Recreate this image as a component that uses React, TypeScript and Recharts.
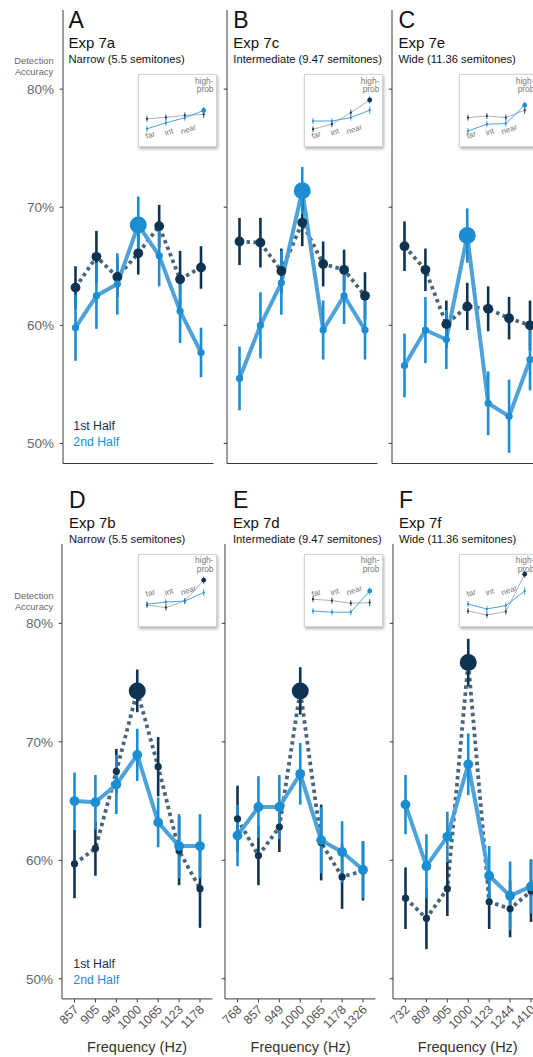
import React from "react";
import { ComposedChart, ErrorBar, Line, XAxis, YAxis } from "recharts";

const DARK = "#0f3452";
const DARK_LINE = "#4a6479";
const BLUE = "#1a8dd3";
const BLUE_LINE = "#4ea2da";
const AXIS = "#3a3a3a";
const FONT = '"Liberation Sans", Arial, Helvetica, sans-serif';

// tone frequencies per spacing condition
const narrowFreqs = ["857", "905", "949", "1000", "1065", "1123", "1178"];
const intermediateFreqs = ["768", "857", "949", "1000", "1065", "1178", "1326"];
const wideFreqs = ["732", "809", "905", "1000", "1123", "1244", "1410"];

const yTicks = [50, 60, 70, 80];

// Exp 7a (narrow)
const firstHalf7a = [63.2, 65.8, 64.1, 66.1, 68.4, 63.9, 64.9];
const firstErr7a = [1.8, 2.2, 1.7, 1.8, 1.8, 2.4, 1.8];
const secondHalf7a = [59.8, 62.5, 63.5, 68.5, 65.9, 61.2, 57.7];
const secondErr7a = [2.8, 2.8, 2.6, 2.4, 2.6, 2.7, 2.1];

// Exp 7c (intermediate)
const firstHalf7c = [67.1, 67.0, 64.6, 68.7, 65.2, 64.7, 62.5];
const firstErr7c = [2.0, 2.1, 1.9, 2.0, 1.9, 1.7, 2.0];
const secondHalf7c = [55.5, 60.0, 63.6, 71.4, 59.6, 62.5, 59.6];
const secondErr7c = [2.7, 2.8, 2.7, 2.0, 2.5, 2.4, 2.5];

// Exp 7e (wide)
const firstHalf7e = [66.7, 64.7, 60.1, 61.6, 61.4, 60.6, 60.0];
const firstErr7e = [2.1, 1.8, 2.0, 2.0, 1.9, 1.8, 2.1];
const secondHalf7e = [56.6, 59.6, 58.8, 67.6, 53.4, 52.3, 57.1];
const secondErr7e = [2.7, 2.8, 2.5, 2.3, 2.7, 3.1, 2.6];

// Exp 7b (narrow)
const firstHalf7b = [59.7, 61.0, 67.5, 74.3, 67.9, 60.8, 57.6];
const firstErr7b = [2.9, 2.3, 1.9, 1.8, 2.5, 2.9, 3.3];
const secondHalf7b = [65.0, 64.9, 66.4, 68.9, 63.2, 61.2, 61.2];
const secondErr7b = [2.4, 2.3, 2.5, 2.2, 2.1, 2.7, 2.7];

// Exp 7d (intermediate)
const firstHalf7d = [63.5, 60.4, 62.8, 74.3, 61.5, 58.6, 59.1];
const firstErr7d = [2.8, 2.5, 2.1, 2.0, 3.2, 2.7, 2.5];
const secondHalf7d = [62.1, 64.5, 64.5, 67.3, 61.7, 60.7, 59.2];
const secondErr7d = [2.6, 2.6, 2.7, 2.6, 2.8, 2.6, 2.4];

// Exp 7f (wide)
const firstHalf7f = [56.8, 55.1, 57.6, 76.7, 56.5, 55.9, 57.4];
const firstErr7f = [2.6, 2.6, 2.3, 2.0, 2.3, 2.4, 2.6];
const secondHalf7f = [64.7, 59.5, 62.0, 68.1, 58.7, 57.0, 57.8];
const secondErr7f = [2.5, 2.7, 2.1, 2.6, 2.5, 2.9, 2.3];

// insets: mean accuracy by distance from the high-probability tone
const insetCats = ["far", "int", "near", "high-prob"];
const insetErrFirst = [1.5, 1.5, 1.5, 1.8];
const insetErrSecond = [1.5, 1.5, 1.5, 1.8];
const insetFirst7a = [60.6, 61.3, 62.3, 62.8];
const insetSecond7a = [55.6, 58.6, 61.1, 64.8];
const insetFirst7c = [55.4, 57.9, 63.7, 70.0];
const insetSecond7c = [59.5, 59.5, 61.2, 64.9];
const insetFirst7e = [61.2, 62.0, 61.2, 64.9];
const insetSecond7e = [54.5, 57.9, 58.2, 67.4];
const insetFirst7b = [57.5, 56.2, 59.5, 69.9];
const insetSecond7b = [57.9, 59.0, 59.5, 63.7];
const insetFirst7d = [60.4, 59.7, 58.4, 58.7];
const insetSecond7d = [54.5, 53.9, 53.9, 64.5];
const insetFirst7f = [54.5, 52.5, 54.2, 72.9];
const insetSecond7f = [58.0, 55.5, 57.2, 64.5];

const Y_W = 58;
const PLOT_W = 150.5;
const TOP_PAD = 10;

type PanelProps = {
  letter: string;
  exp: string;
  sub: string;
  axisX: number;
  plotTop: number;
  plotH: number;
  titleY: number;
  freqs: string[];
  first: number[];
  firstErr: number[];
  second: number[];
  secondErr: number[];
  showY: boolean;
  showX: boolean;
};

function FreqTick(props: any) {
  const { x, y, payload } = props;
  const ax = x + 2;
  const ay = y + 3;
  return (
    <text
      x={ax}
      y={ay}
      textAnchor="end"
      dominantBaseline="central"
      transform={`rotate(-45 ${ax} ${ay})`}
      fill="#555"
      fontSize={12.5}
      fontFamily={FONT}
    >
      {payload.value}
    </text>
  );
}

function makeDot(color: string, emphasized: boolean, peak: number) {
  return (p: any) => {
    const r = emphasized ? (p.index === peak ? 8.5 : 3.6) : 4.9;
    return <circle key={`dot-${p.index}`} cx={p.cx} cy={p.cy} r={r} fill={color} />;
  };
}

function Panel(props: PanelProps) {
  const { axisX, plotTop, plotH, freqs, first, firstErr, second, secondErr, showY, showX } = props;
  const rows = freqs.map((f, i) => ({
    f,
    a: first[i],
    b: second[i],
    ap: first[i],
    bp: second[i],
    ea: firstErr[i],
    eb: secondErr[i],
  }));
  const peak = freqs.indexOf("1000");
  const firstBig = first[peak] > second[peak];
  const xH = showX ? 56 : 8;

  return (
    <div style={{ position: "absolute", left: axisX - Y_W, top: plotTop - TOP_PAD }}>
      <ComposedChart
        width={Y_W + PLOT_W + 6}
        height={TOP_PAD + plotH + xH}
        data={rows}
        margin={{ top: TOP_PAD, right: 6, bottom: 0, left: 0 }}
      >
        <XAxis
          dataKey="f"
          type="category"
          interval={0}
          height={xH}
          padding={{ left: 12.5, right: 12.5 }}
          axisLine={{ stroke: AXIS }}
          tickLine={{ stroke: AXIS }}
          tickSize={3.5}
          tick={showX ? <FreqTick /> : false}
        />
        <YAxis
          type="number"
          domain={[48.3, 86.7]}
          ticks={yTicks}
          allowDataOverflow
          width={Y_W}
          axisLine={{ stroke: AXIS }}
          tickLine={{ stroke: AXIS }}
          tickSize={3.3}
          tickMargin={5.7}
          tick={{ fill: "#666", fontSize: 13.5, fontFamily: FONT }}
          tickFormatter={(v) => (showY ? `${v}%` : "")}
        />
        <Line
          dataKey="a"
          stroke={DARK_LINE}
          strokeWidth={3.8}
          strokeDasharray="3.5 3.5"
          dot={false}
          activeDot={false}
          isAnimationActive={false}
        />
        <Line
          dataKey="b"
          stroke={BLUE_LINE}
          strokeWidth={4}
          strokeLinejoin="round"
          dot={false}
          activeDot={false}
          isAnimationActive={false}
        />
        <Line
          dataKey="ap"
          stroke="none"
          dot={makeDot(DARK, firstBig, peak)}
          activeDot={false}
          isAnimationActive={false}
        >
          <ErrorBar dataKey="ea" direction="y" width={0} stroke={DARK} strokeWidth={2.6} isAnimationActive={false} />
        </Line>
        <Line
          dataKey="bp"
          stroke="none"
          dot={makeDot(BLUE, !firstBig, peak)}
          activeDot={false}
          isAnimationActive={false}
        >
          <ErrorBar dataKey="eb" direction="y" width={0} stroke={BLUE} strokeWidth={2.6} isAnimationActive={false} />
        </Line>
      </ComposedChart>
    </div>
  );
}

type InsetProps = {
  left: number;
  top: number;
  first: number[];
  second: number[];
  labelsAbove: boolean;
};

function insetDot(color: string, emphasized: boolean) {
  return (p: any) => (
    <circle key={`idot-${p.index}`} cx={p.cx} cy={p.cy} r={emphasized && p.index === 3 ? 2.4 : 1.1} fill={color} />
  );
}

function Inset({ left, top, first, second }: InsetProps) {
  const rows = insetCats.map((c, i) => ({
    c,
    a: first[i],
    b: second[i],
    ea: insetErrFirst[i],
    eb: insetErrSecond[i],
  }));
  const firstBig = first[3] > second[3];
  return (
    <>
      <div
        style={{
          position: "absolute",
          left,
          top,
          width: 79,
          height: 73,
          boxSizing: "border-box",
          background: "#fff",
          border: "1px solid #d4d4d4",
          boxShadow: "1px 2px 3px rgba(0,0,0,0.3)",
        }}
      />
      <div style={{ position: "absolute", left, top }}>
        <ComposedChart width={79} height={73} data={rows} margin={{ top: 16, right: 13.3, bottom: 7, left: 9 }}>
          <XAxis dataKey="c" hide padding={{ left: 0, right: 0 }} />
          <YAxis hide type="number" domain={[50, 75]} allowDataOverflow />
          <Line
            dataKey="a"
            stroke="#a9b1b8"
            strokeWidth={1}
            dot={insetDot(DARK, firstBig)}
            activeDot={false}
            isAnimationActive={false}
          >
            <ErrorBar dataKey="ea" direction="y" width={0} stroke={DARK} strokeWidth={0.8} isAnimationActive={false} />
          </Line>
          <Line
            dataKey="b"
            stroke="#4aa3df"
            strokeWidth={1}
            dot={insetDot(BLUE, !firstBig)}
            activeDot={false}
            isAnimationActive={false}
          >
            <ErrorBar dataKey="eb" direction="y" width={0} stroke={BLUE} strokeWidth={0.8} isAnimationActive={false} />
          </Line>
        </ComposedChart>
      </div>
    </>
  );
}

const TOP_ROW = { plotTop: 10, plotH: 453.5, titleY: 0 };
const BOTTOM_ROW = { plotTop: 544.4, plotH: 454.9, titleY: 479.5 };

const panels: PanelProps[] = [
  { letter: "A", exp: "Exp 7a", sub: "Narrow (5.5 semitones)", axisX: 63.4, ...TOP_ROW, freqs: narrowFreqs, first: firstHalf7a, firstErr: firstErr7a, second: secondHalf7a, secondErr: secondErr7a, showY: true, showX: false },
  { letter: "B", exp: "Exp 7c", sub: "Intermediate (9.47 semitones)", axisX: 227.2, ...TOP_ROW, freqs: intermediateFreqs, first: firstHalf7c, firstErr: firstErr7c, second: secondHalf7c, secondErr: secondErr7c, showY: false, showX: false },
  { letter: "C", exp: "Exp 7e", sub: "Wide (11.36 semitones)", axisX: 391.7, ...TOP_ROW, freqs: wideFreqs, first: firstHalf7e, firstErr: firstErr7e, second: secondHalf7e, secondErr: secondErr7e, showY: false, showX: false },
  { letter: "D", exp: "Exp 7b", sub: "Narrow (5.5 semitones)", axisX: 61.8, ...BOTTOM_ROW, freqs: narrowFreqs, first: firstHalf7b, firstErr: firstErr7b, second: secondHalf7b, secondErr: secondErr7b, showY: true, showX: true },
  { letter: "E", exp: "Exp 7d", sub: "Intermediate (9.47 semitones)", axisX: 225.3, ...BOTTOM_ROW, freqs: intermediateFreqs, first: firstHalf7d, firstErr: firstErr7d, second: secondHalf7d, secondErr: secondErr7d, showY: false, showX: true },
  { letter: "F", exp: "Exp 7f", sub: "Wide (11.36 semitones)", axisX: 392.5, ...BOTTOM_ROW, freqs: wideFreqs, first: firstHalf7f, firstErr: firstErr7f, second: secondHalf7f, secondErr: secondErr7f, showY: false, showX: true },
];

const insets: InsetProps[] = [
  { left: 138.4, top: 74, first: insetFirst7a, second: insetSecond7a, labelsAbove: false },
  { left: 304.3, top: 74, first: insetFirst7c, second: insetSecond7c, labelsAbove: false },
  { left: 459.3, top: 74, first: insetFirst7e, second: insetSecond7e, labelsAbove: false },
  { left: 138.4, top: 553.5, first: insetFirst7b, second: insetSecond7b, labelsAbove: true },
  { left: 304.3, top: 553.5, first: insetFirst7d, second: insetSecond7d, labelsAbove: true },
  { left: 459.3, top: 553.5, first: insetFirst7f, second: insetSecond7f, labelsAbove: true },
];

const titleX = [68.5, 233.3, 398.5, 69, 233, 399];

export default function App() {
  return (
    <div
      style={{
        position: "absolute",
        left: 0,
        top: 0,
        width: 533,
        height: 1057,
        overflow: "hidden",
        background: "#fff",
        fontFamily: FONT,
      }}
    >
      {panels.map((p) => (
        <Panel key={p.letter} {...p} />
      ))}
      {insets.map((s, i) => (
        <Inset key={i} {...s} />
      ))}
      <svg
        width={533}
        height={1057}
        style={{ position: "absolute", left: 0, top: 0, pointerEvents: "none" }}
        fontFamily={FONT}
      >
        {panels.map((p, i) => (
          <g key={p.letter}>
            <text x={titleX[i]} y={p.titleY + 28.3} fontSize={23} fill="#111">
              {p.letter}
            </text>
            <text x={titleX[i]} y={p.titleY + 48.3} fontSize={15} fill="#111">
              {p.exp}
            </text>
            <text x={titleX[i]} y={p.titleY + 63.3} fontSize={11.2} fill="#111">
              {p.sub}
            </text>
          </g>
        ))}
        {[0, 534.5].map((dy) => (
          <g key={dy} fill="#666" fontSize={9.3} textAnchor="middle">
            <text x={34} y={64 + dy}>Detection</text>
            <text x={34} y={75 + dy}>Accuracy</text>
          </g>
        ))}
        <text x={73.3} y={429.5} fontSize={12.3} fill={DARK}>1st Half</text>
        <text x={73.3} y={446} fontSize={12.3} fill={BLUE}>2nd Half</text>
        <text x={73.3} y={967.7} fontSize={12.3} fill={DARK}>1st Half</text>
        <text x={73.3} y={984} fontSize={12.3} fill={BLUE}>2nd Half</text>
        {panels.slice(3).map((p) => (
          <text key={p.letter} x={p.axisX + PLOT_W / 2} y={1052} fontSize={14.5} fill="#333" textAnchor="middle">
            Frequency (Hz)
          </text>
        ))}
        {insets.map((s, i) => (
          <g key={i} fill="#777">
            <text x={s.left + 75} y={s.top + 9.8} fontSize={8.3} textAnchor="end">high-</text>
            <text x={s.left + 75} y={s.top + 18.3} fontSize={8.3} textAnchor="end">prob</text>
            {insetCats.slice(0, 3).map((c, j) => {
              const lx = s.left + [12, 30.5, 50][j];
              const ly = s.top + (s.labelsAbove ? [39.5, 38.5, 37][j] : [61, 58, 55.5][j]);
              return (
                <text
                  key={c}
                  x={lx}
                  y={ly}
                  fontSize={8}
                  textAnchor="middle"
                  dominantBaseline="central"
                  transform={`rotate(-20 ${lx} ${ly})`}
                >
                  {c}
                </text>
              );
            })}
          </g>
        ))}
      </svg>
    </div>
  );
}
